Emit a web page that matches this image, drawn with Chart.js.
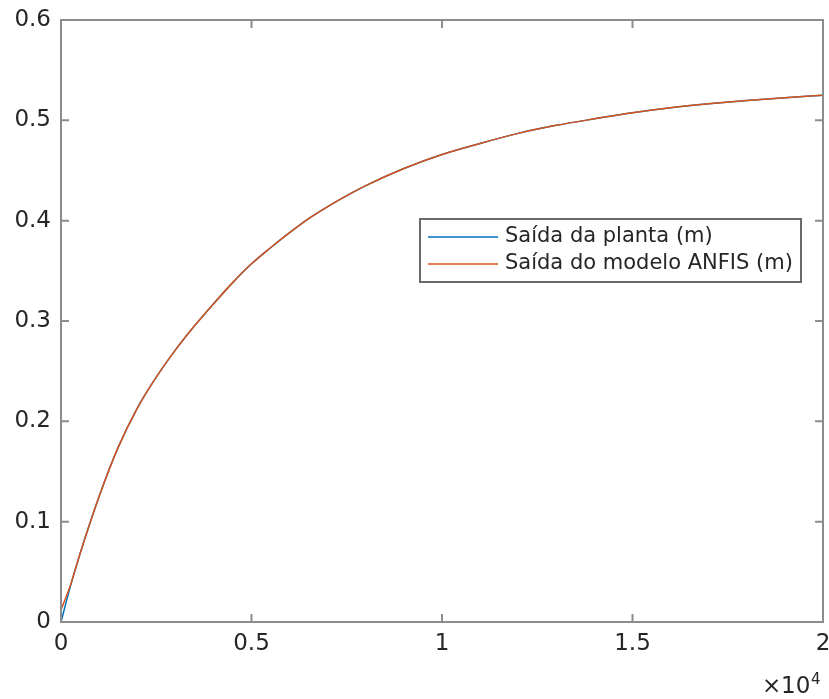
<!DOCTYPE html>
<html>
<head>
<meta charset="utf-8">
<script src="https://cdn.jsdelivr.net/npm/chart.js@4/dist/chart.umd.min.js"></script>
<style>
  html, body { margin: 0; padding: 0; background: #fff; }
  #wrap { width: 829px; height: 699px; position: relative; }
</style>
</head>
<body>
<div id="wrap"><canvas id="chart"></canvas></div>
<script>
// time samples (s) and level response (m)
const timeSteps = [0, 250, 500, 1000, 1500, 2000, 2500, 3000, 3500, 4000, 4500, 5000, 5500, 6000, 6500,
  7000, 7500, 8000, 9000, 10000, 11000, 12000, 13000, 14000, 15000, 16000, 17000, 18000, 19000, 20000];
const plantOutput = [0, 0.036, 0.068, 0.125, 0.174, 0.213, 0.244, 0.271, 0.295, 0.317, 0.338, 0.357, 0.373, 0.388, 0.402,
  0.414, 0.425, 0.435, 0.452, 0.466, 0.477, 0.487, 0.495, 0.5015, 0.5075, 0.5125, 0.5165, 0.5198, 0.5226, 0.525];
const anfisOutput = [0.012, 0.037, 0.068, 0.125, 0.174, 0.213, 0.244, 0.271, 0.295, 0.317, 0.338, 0.357, 0.373, 0.388, 0.402,
  0.414, 0.425, 0.435, 0.452, 0.466, 0.477, 0.487, 0.495, 0.5015, 0.5075, 0.5125, 0.5165, 0.5198, 0.5226, 0.525];
const xTicks = [0, 5000, 10000, 15000, 20000];
const xTickLabels = ["0", "0.5", "1", "1.5", "2"];
const yTicks = [0, 0.1, 0.2, 0.3, 0.4, 0.5, 0.6];
const seriesNames = ["Saída da planta (m)", "Saída do modelo ANFIS (m)"];
const seriesColors = ["#0072BD", "#D95319"];

const fontFamily = "'DejaVu Sans', sans-serif";
const textColor = "#262626";
const axisColor = "#8c8c8c";

function toPoints(xs, ys) {
  return xs.map(function(x, i) { return { x: x, y: ys[i] }; });
}

// box, inward ticks, exponent label and legend in the MATLAB style
const matlabAxes = {
  id: "matlabAxes",
  afterDraw: function(chart) {
    const ctx = chart.ctx;
    const area = chart.chartArea;
    const xs = chart.scales.x;
    const ys = chart.scales.y;
    const tl = 8;

    ctx.save();
    ctx.strokeStyle = axisColor;
    ctx.lineWidth = 2;
    ctx.strokeRect(area.left, area.top, area.right - area.left, area.bottom - area.top);

    ctx.beginPath();
    xTicks.forEach(function(v) {
      const px = xs.getPixelForValue(v);
      ctx.moveTo(px, area.bottom); ctx.lineTo(px, area.bottom - tl);
      ctx.moveTo(px, area.top); ctx.lineTo(px, area.top + tl);
    });
    yTicks.forEach(function(v) {
      const py = ys.getPixelForValue(v);
      ctx.moveTo(area.left, py); ctx.lineTo(area.left + tl, py);
      ctx.moveTo(area.right, py); ctx.lineTo(area.right - tl, py);
    });
    ctx.stroke();

    // x10^4 exponent
    ctx.fillStyle = textColor;
    ctx.textBaseline = "alphabetic";
    ctx.textAlign = "left";
    ctx.font = "23px " + fontFamily;
    ctx.fillText("\u00d7", 762, 693);
    ctx.fillText("10", 781, 693);
    ctx.font = "15px " + fontFamily;
    ctx.fillText("4", 811, 684);

    // legend
    const lx = 420, ly = 219, lw = 381, lh = 63;
    ctx.fillStyle = "#fff";
    ctx.fillRect(lx, ly, lw, lh);
    ctx.strokeStyle = "#6a6a6a";
    ctx.lineWidth = 2;
    ctx.strokeRect(lx, ly, lw, lh);
    ctx.font = "21px " + fontFamily;
    ctx.textBaseline = "middle";
    chart.data.datasets.forEach(function(ds, i) {
      const y = ly + 18 + i * 27;
      ctx.strokeStyle = ds.borderColor;
      ctx.lineWidth = 1.5;
      ctx.beginPath();
      ctx.moveTo(lx + 8, y); ctx.lineTo(lx + 78, y);
      ctx.stroke();
      ctx.fillStyle = textColor;
      ctx.fillText(ds.label, lx + 85, y);
    });
    ctx.restore();
  }
};

new Chart(document.getElementById("chart"), {
  type: "line",
  data: {
    datasets: [{
      label: seriesNames[0],
      data: toPoints(timeSteps, plantOutput),
      borderColor: seriesColors[0],
      borderWidth: 1.5,
      pointRadius: 0,
      order: 1,
      cubicInterpolationMode: "monotone"
    }, {
      label: seriesNames[1],
      data: toPoints(timeSteps, anfisOutput),
      borderColor: seriesColors[1],
      borderWidth: 1.5,
      pointRadius: 0,
      order: 0,
      cubicInterpolationMode: "monotone"
    }]
  },
  options: {
    responsive: true,
    maintainAspectRatio: false,
    animation: false,
    layout: { padding: { top: 20, right: 6, left: 0, bottom: 0 } },
    plugins: {
      legend: { display: false },
      tooltip: { enabled: false }
    },
    scales: {
      x: {
        type: "linear",
        min: 0,
        max: 20000,
        grid: { display: false, drawTicks: false },
        border: { display: false },
        afterFit: function(scale) {
          scale.height = 77;
          scale.paddingLeft = 0;
          scale.paddingRight = 0;
        },
        afterBuildTicks: function(scale) {
          scale.ticks = xTicks.map(function(v) { return { value: v }; });
        },
        ticks: {
          padding: 8,
          maxRotation: 0,
          color: textColor,
          font: { family: fontFamily, size: 23 },
          callback: function(v) {
            const i = xTicks.indexOf(v);
            return i >= 0 ? xTickLabels[i] : "";
          }
        }
      },
      y: {
        type: "linear",
        min: 0,
        max: 0.6,
        grid: { display: false, drawTicks: false },
        border: { display: false },
        afterFit: function(scale) {
          scale.width = 61;
          scale.paddingTop = 0;
          scale.paddingBottom = 0;
        },
        afterBuildTicks: function(scale) {
          scale.ticks = yTicks.map(function(v) { return { value: v }; });
        },
        ticks: {
          padding: 10,
          color: textColor,
          font: { family: fontFamily, size: 23 },
          callback: function(v) { return String(Math.round(v * 10) / 10); }
        }
      }
    }
  },
  plugins: [matlabAxes]
});
</script>
</body>
</html>
